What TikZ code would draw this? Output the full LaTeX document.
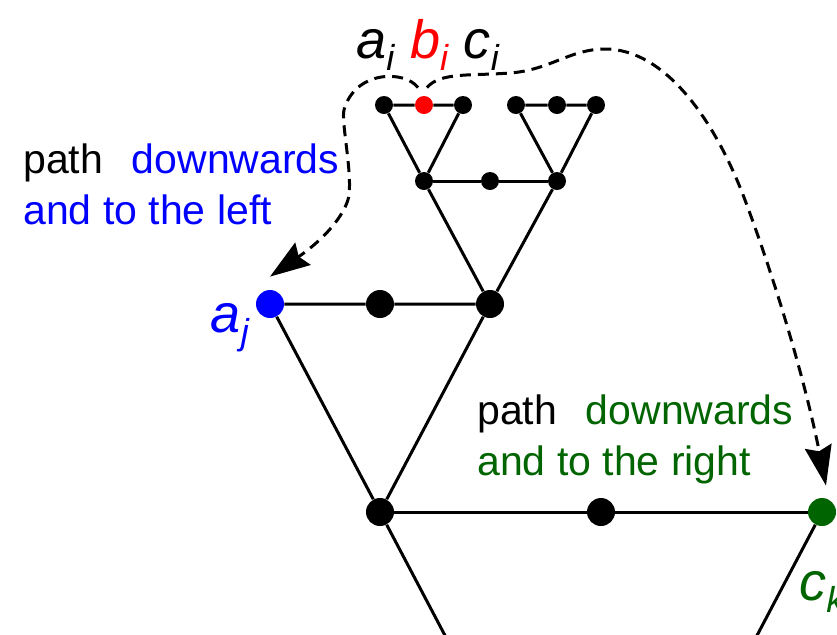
\documentclass[tikz,border=0pt]{standalone}
\usepackage{fontspec}
\setmainfont{Liberation Sans}
\usetikzlibrary{arrows.meta}
\definecolor{dkgreen}{RGB}{0,100,0}
\newcommand{\idx}[2]{\textit{#1}\raisebox{-0.24em}{\fontsize{18}{18}\selectfont\textit{#2}}}
\tikzset{dot/.style={
    circle,
    fill=black,
    inner sep=0pt,
    minimum size=9pt
  },
  bigdot/.style={dot,minimum size=14pt},
  edge/.style={line width=1.5pt},
  walk/.style={line width=1.5pt,dash pattern=on 5.5pt off 3.5pt,
    -{Stealth[length=20pt,width=13.5pt,inset=2.5pt]}},
  note/.style={align=left,inner sep=0pt,anchor=north west,
    font=\fontsize{20.5}{25.5}\selectfont},
  vlabel/.style={inner sep=0pt,font=\fontsize{27}{30}\selectfont},
}
\begin{document}
\begin{tikzpicture}[x=0.5pt,y=-0.5pt]
  \useasboundingbox (0,0) rectangle (837,634);
  \clip (0,0) rectangle (837,634);
  % top level
  \node [dot] (ai) at (384,105) {};
  \node [dot,fill=red] (bi) at (424,105) {};
  \node [dot] (ci) at (463,105) {};
  \node [dot] (tl) at (424,181) {};
  \node [dot] (t1) at (516,105) {};
  \node [dot] (t2) at (557,105) {};
  \node [dot] (t3) at (596,105) {};
  \node [dot] (tr) at (557,181) {};
  \node [dot] (tm) at (490,181) {};
  % second level
  \node [bigdot,fill=blue] (aj) at (270,304) {};
  \node [bigdot] (mj) at (380,304) {};
  \node [bigdot] (rj) at (490,304) {};
  % third level
  \node [bigdot] (lk) at (380,512) {};
  \node [bigdot] (mk) at (601,512) {};
  \node [bigdot,fill=dkgreen] (ck) at (822,512) {};
  \coordinate (downl) at (450,645);
  \coordinate (downr) at (752,645);
  % labels
  \node [vlabel,anchor=base] (lbli) at (428,58)
  {\idx{a}{i} \textcolor{red}{\idx{b}{i}} \idx{c}{i}};
  \node [vlabel,anchor=base east,text=blue] (lblj) at (250,332) {\idx{a}{j}};
  \node [vlabel,anchor=base west,text=dkgreen] (lblk) at (799,600) {\idx{c}{k}};
  \node [note] (leftnote) at (23,143)
  {path\hspace{0.7em}\textcolor{blue}{downwards}\\ \textcolor{blue}{and to the left}};
  \node [note] (rightnote) at (477,394)
  {path\hspace{0.7em}\textcolor{dkgreen}{downwards}\\ \textcolor{dkgreen}{and to the right}};
  % edges
  \draw[edge] (ai) -- (bi) -- (ci) -- (tl) -- (ai);
  \draw[edge] (t1) -- (t2) -- (t3) -- (tr) -- (t1);
  \draw[edge] (tl) -- (tm) -- (tr);
  \draw[edge] (tl) -- (rj) -- (tr);
  \draw[edge] (aj) -- (mj) -- (rj) -- (lk) -- (aj);
  \draw[edge] (lk) -- (mk) -- (ck);
  \draw[edge] (lk) -- (downl);
  \draw[edge] (ck) -- (downr);
  % paths
  \draw[walk] ([shift={(-3pt,4pt)}]bi.north)
  .. controls (405,70) and (355,70) .. (344,110)
  .. controls (341,121) and (352,170) .. (349,195)
  .. controls (347,210) and (330,235) .. ([yshift=6.5pt]aj.north);
  \draw[walk] ([shift={(1.5pt,4pt)}]bi.north)
  .. controls (440,72) and (470,76) .. (510,73)
  .. controls (550,70) and (570,49) .. (605,49)
  .. controls (665,49) and (715,120) .. (745,200)
  .. controls (775,280) and (805,380) .. ([shift={(2pt,6pt)}]ck.north);
\end{tikzpicture}
\end{document}
